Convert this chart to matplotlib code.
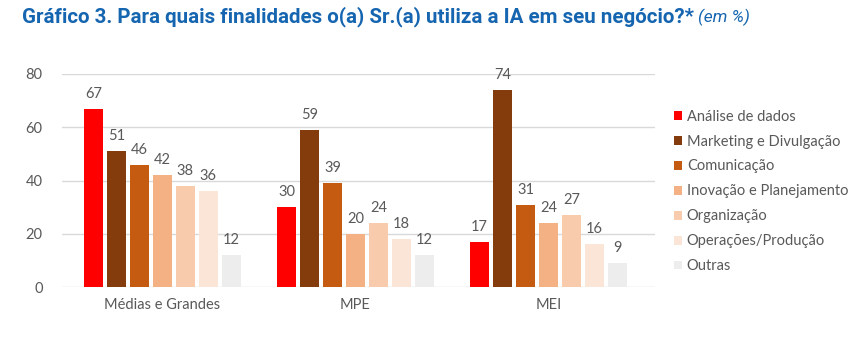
import matplotlib
matplotlib.use('Agg')
import matplotlib.pyplot as plt
import numpy as np

# business size groups
groups = ['Médias e Grandes', 'MPE', 'MEI']

# purposes for which AI is used (%)
purposes = ['Análise de dados', 'Marketing e Divulgação', 'Comunicação',
            'Inovação e Planejamento', 'Organização', 'Operações/Produção',
            'Outras']
analise = [67, 30, 17]
marketing = [51, 59, 74]
comunicacao = [46, 39, 31]
inovacao = [42, 20, 24]
organizacao = [38, 24, 27]
operacoes = [36, 18, 16]
outras = [12, 12, 9]

colors = ['#FF0000', '#843C0C', '#C55A11', '#F4B183', '#F8CBAD',
          '#FBE5D6', '#EDEDED']
text_grey = '#595959'

series = [analise, marketing, comunicacao, inovacao, organizacao,
          operacoes, outras]

plt.rcParams['font.family'] = ['Lato', 'DejaVu Sans']

fig = plt.figure(figsize=(8.56, 3.39), dpi=100)
ax = fig.add_axes([0.0724, 0.153, 0.6926, 0.629])

x = np.arange(len(groups))
stride = 0.119
width = 0.10
for i, (vals, col, name) in enumerate(zip(series, colors, purposes)):
    pos = x + (i - 3) * stride
    bars = ax.bar(pos, vals, width, color=col, label=name, zorder=3)
    for b, v in zip(bars, vals):
        ax.text(b.get_x() + b.get_width() / 2, v + 3, str(v),
                ha='center', va='bottom', fontsize=10.5, color=text_grey,
                clip_on=False)

ax.set_xlim(-0.52, 2.55)
ax.set_ylim(0, 80)
ax.set_yticks([0, 20, 40, 60, 80])
ax.yaxis.grid(True, color='#D9D9D9', linewidth=1, zorder=0)
ax.set_xticks(x)
ax.set_xticklabels(groups)
ax.tick_params(axis='both', length=0, labelsize=10.5, colors=text_grey)
ax.tick_params(axis='y', pad=14)
ax.tick_params(axis='x', pad=8)
for s in ax.spines.values():
    s.set_visible(False)

leg = ax.legend(loc='upper left', bbox_to_anchor=(1.022, 0.86),
                frameon=False, fontsize=10.5, labelcolor=text_grey,
                handlelength=0.55, handleheight=0.55, handletextpad=0.35,
                labelspacing=0.75, borderaxespad=0)

fig.text(0.0257, 0.935, 'Gráfico 3. Para quais finalidades o(a) Sr.(a) utiliza a IA em seu negócio?*',
         fontsize=14.8, fontweight='bold', color='#1565B0',
         family='Roboto', ha='left', va='baseline')
fig.canvas.draw()
t = fig.texts[0]
bb = t.get_window_extent()
fig.text(bb.x1 / fig.bbox.width + 0.005, 0.935, '(em %)', fontsize=12.5,
         style='italic', color='#1565B0', family='Roboto',
         ha='left', va='baseline')

fig.savefig('out.png', dpi=100)
